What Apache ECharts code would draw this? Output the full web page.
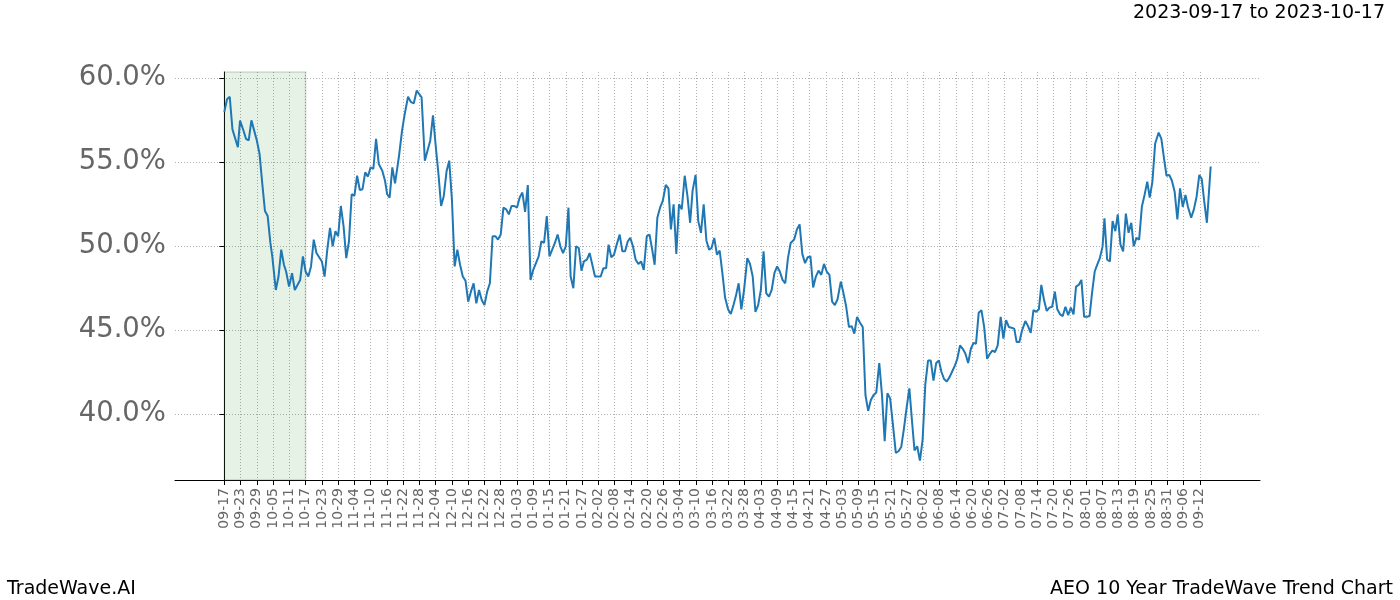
<!DOCTYPE html>
<html>
<head>
<meta charset="utf-8">
<script src="https://cdn.jsdelivr.net/npm/echarts@6/dist/echarts.min.js"></script>
<style>
html,body{margin:0;padding:0;background:#fff;}
#chart{width:1400px;height:600px;}
</style>
</head>
<body>
<div id="chart"></div>
<script>
// Tick labels (one every 6 days, starting at day 0 = 09-17)
const tickLabels = ['09-17','09-23','09-29','10-05','10-11','10-17','10-23','10-29','11-04','11-10','11-16','11-22','11-28','12-04','12-10','12-16','12-22','12-28','01-03','01-09','01-15','01-21','01-27','02-02','02-08','02-14','02-20','02-26','03-04','03-10','03-16','03-22','03-28','04-03','04-09','04-15','04-21','04-27','05-03','05-09','05-15','05-21','05-27','06-02','06-08','06-14','06-20','06-26','07-02','07-08','07-14','07-20','07-26','08-01','08-07','08-13','08-19','08-25','08-31','09-06','09-12'];
const tickStep = 6;
const yTicks = [40, 45, 50, 55, 60];
// Highlighted period (day offsets)
const highlightStart = 0;
const highlightEnd = 30;
const titleText = '2023-09-17 to 2023-10-17';
const footerLeft = 'TradeWave.AI';
const footerRight = 'AEO 10 Year TradeWave Trend Chart';
// [day offset from 09-17, percent]
const trendPoints = [[0,58.0],[1,58.75],[2,58.9],[3,56.96],[5,55.9],[5.8,57.48],[7,56.92],[8,56.4],[9,56.3],[10,57.5],[11,56.9],[12,56.3],[13,55.5],[14,53.75],[15,52.1],[16,51.8],[17,50.2],[17.7,49.4],[19,47.4],[20,48.2],[21,49.8],[22,48.9],[22.8,48.5],[23.9,47.6],[25,48.4],[26,47.4],[27,47.7],[28,48.0],[29,49.4],[30,48.5],[31,48.2],[32,48.8],[33,50.4],[34,49.6],[36,49.1],[37,48.2],[38,49.8],[39,51.1],[40,50.0],[41,50.9],[42,50.6],[43,52.4],[44,51.2],[45,49.3],[46,50.3],[47,53.1],[48,53.0],[49,54.2],[50,53.35],[51,53.4],[52,54.4],[53,54.15],[54,54.7],[55,54.6],[56,56.4],[57,54.9],[58.3,54.5],[59.3,53.9],[60.1,53.1],[61,52.9],[62,54.7],[63,53.75],[64.4,55.3],[65.6,56.9],[66.6,57.9],[67.8,58.9],[68.8,58.6],[69.9,58.5],[71,59.27],[72.8,58.87],[74,55.1],[75,55.7],[76,56.3],[77,57.8],[78,56.0],[79,54.35],[80,52.4],[81,53.0],[82,54.45],[83,55.1],[84,52.75],[85,48.8],[86,49.8],[87,48.9],[88,48.2],[89,47.95],[90,46.7],[91,47.3],[92,47.8],[93,46.6],[94,47.4],[95,46.8],[96,46.5],[97,47.3],[98,47.8],[99,50.6],[100,50.6],[101,50.4],[102,50.7],[103,52.3],[104,52.2],[105,51.9],[106,52.4],[107,52.4],[108,52.3],[109,52.9],[110,53.2],[111,52.05],[112,53.65],[113,48.0],[114,48.6],[115,49.0],[116,49.4],[117,50.3],[118,50.2],[119,51.8],[120,49.4],[121,49.8],[122,50.2],[123,50.7],[124,50.0],[125,49.6],[126,50.0],[127,52.3],[127.8,48.2],[128.8,47.5],[129.8,50.0],[130.8,49.9],[131.8,48.55],[132.7,49.1],[133.8,49.2],[134.8,49.6],[135.8,48.9],[136.8,48.2],[137.9,48.2],[138.9,48.2],[139.9,48.7],[140.9,48.7],[141.8,50.1],[142.8,49.35],[143.8,49.5],[144.8,50.1],[145.9,50.7],[146.9,49.7],[147.9,49.7],[148.9,50.3],[149.8,50.5],[150.8,50.0],[151.8,49.2],[152.8,48.95],[153.8,49.1],[154.8,48.6],[155.9,50.6],[156.9,50.7],[157.9,49.8],[158.8,48.9],[159.8,51.7],[160.8,52.3],[161.8,52.7],[162.9,53.65],[163.9,53.45],[164.8,51.0],[165.8,52.5],[166.8,49.55],[167.8,52.5],[168.8,52.2],[169.9,54.2],[170.9,53.0],[171.9,51.4],[172.8,53.3],[173.9,54.25],[174.9,51.5],[175.9,50.8],[176.9,52.5],[177.9,50.35],[178.9,49.8],[179.8,49.9],[180.8,50.5],[181.8,49.5],[182.8,49.75],[183.8,48.4],[184.8,46.95],[185.9,46.25],[186.9,45.97],[187.9,46.5],[188.8,47.05],[189.8,47.8],[190.8,46.25],[191.8,47.4],[193,49.3],[194,48.95],[195,48.2],[196,46.1],[197,46.5],[198,47.4],[199,49.7],[200,47.2],[201,47.0],[202,47.4],[203,48.4],[204,48.8],[205,48.5],[206,48.0],[207,47.8],[208,49.3],[209,50.2],[210.3,50.4],[211.3,51.0],[212.3,51.3],[213.3,49.55],[214.3,49.0],[215.3,49.35],[216.3,49.4],[217.3,47.55],[218.3,48.2],[219.3,48.55],[220.3,48.3],[221.3,48.95],[222.3,48.5],[223.3,48.3],[224.3,46.7],[225.3,46.5],[226.3,46.85],[227.5,47.9],[228.5,47.2],[229.5,46.4],[230.5,45.2],[231.5,45.25],[232.5,44.8],[233.5,45.8],[234.6,45.45],[235.6,45.2],[236.6,41.15],[237.6,40.2],[238.6,40.85],[239.6,41.15],[240.6,41.3],[241.7,43.05],[242.7,41.15],[243.7,38.4],[244.7,41.25],[245.7,40.95],[246.7,39.45],[247.8,37.7],[248.8,37.8],[249.8,38.05],[250.8,39.15],[251.8,40.4],[252.8,41.55],[253.7,39.75],[254.7,37.85],[255.7,38.1],[256.7,37.25],[257.7,38.5],[258.7,41.8],[259.7,43.2],[260.7,43.2],[261.7,42.0],[262.7,43.05],[263.7,43.2],[264.6,42.55],[265.6,42.1],[266.6,41.95],[267.6,42.2],[268.6,42.55],[269.6,42.9],[270.5,43.3],[271.5,44.1],[272.5,43.9],[273.5,43.6],[274.5,43.05],[275.5,43.9],[276.5,44.25],[277.4,44.2],[278.4,46.05],[279.4,46.2],[280.4,45.2],[281.5,43.3],[282.5,43.6],[283.5,43.8],[284.4,43.7],[285.4,44.1],[286.5,45.8],[287.5,44.5],[288.5,45.6],[289.5,45.2],[290.5,45.15],[291.5,45.1],[292.4,44.3],[293.4,44.3],[294.4,45.0],[295.6,45.55],[296.6,45.25],[297.6,44.85],[298.6,46.2],[299.6,46.1],[300.6,46.25],[301.5,47.7],[302.5,46.8],[303.5,46.15],[304.5,46.35],[305.5,46.4],[306.5,47.3],[307.4,46.25],[308.4,45.95],[309.4,45.85],[310.4,46.4],[311.4,45.9],[312.4,46.35],[313.4,45.95],[314.3,47.6],[315.3,47.7],[316.3,48.0],[317.3,45.8],[318.3,45.8],[319.3,45.85],[320.2,47.2],[321.2,48.5],[322.1,48.9],[323.1,49.3],[324.1,49.98],[324.8,51.67],[325.8,49.2],[326.8,49.1],[327.8,51.5],[328.8,50.9],[329.7,51.9],[330.7,50.1],[331.7,49.7],[332.7,51.95],[333.7,50.8],[334.7,51.4],[335.6,50.0],[336.6,50.5],[337.6,50.4],[338.6,52.35],[339.6,53.05],[340.6,53.85],[341.5,52.9],[342.5,53.85],[343.5,56.1],[344.8,56.77],[345.8,56.4],[346.8,55.2],[347.7,54.2],[348.7,54.25],[349.7,53.9],[350.7,53.25],[351.7,51.6],[352.7,53.45],[353.7,52.35],[354.7,53.05],[355.6,52.35],[356.8,51.7],[357.8,52.2],[358.8,52.95],[359.8,54.25],[360.7,54.0],[361.6,52.7],[362.6,51.4],[364,54.75]];

const xTicks = tickLabels.map((_, i) => i * tickStep);
const FONT = 'DejaVu Sans';

const chart = echarts.init(document.getElementById('chart'), null, {renderer: 'canvas'});
chart.setOption({
  animation: false,
  backgroundColor: '#ffffff',
  title: [
    {text: titleText, right: 15, top: 4, padding: 0, textStyle: {fontFamily: FONT, fontSize: 19, fontWeight: 'normal', color: '#000'}},
    {text: footerLeft, left: 7, top: 580, padding: 0, textStyle: {fontFamily: FONT, fontSize: 19, fontWeight: 'normal', color: '#000'}},
    {text: footerRight, right: 7, top: 580, padding: 0, textStyle: {fontFamily: FONT, fontSize: 19, fontWeight: 'normal', color: '#000'}}
  ],
  grid: {left: 175, right: 140, top: 72, bottom: 120, containLabel: false},
  xAxis: {
    type: 'value',
    min: -18.2,
    max: 382.2,
    axisLine: {show: true, onZero: false, lineStyle: {color: '#000', width: 1}},
    axisTick: {show: true, customValues: xTicks, length: 5, lineStyle: {color: '#000', width: 1}},
    axisLabel: {
      customValues: xTicks, rotate: 90, margin: 8, fontSize: 14, fontFamily: FONT, color: '#666',
      formatter: v => tickLabels[Math.round(v / tickStep)] || ''
    },
    splitLine: {show: true, lineStyle: {type: [1, 2], color: '#b0b0b0', width: 1}}
  },
  yAxis: {
    type: 'value',
    min: 36.09,
    max: 60.375,
    axisLine: {show: true, lineStyle: {color: '#000', width: 1}},
    axisTick: {show: true, customValues: yTicks, length: 5, lineStyle: {color: '#000', width: 1}},
    axisLabel: {
      customValues: yTicks, margin: 9, fontSize: 27.5, fontFamily: FONT, color: '#666',
      formatter: v => v.toFixed(1) + '%'
    },
    splitLine: {show: true, lineStyle: {type: [1, 2], color: '#b0b0b0', width: 1}}
  },
  series: [{
    type: 'line',
    data: trendPoints,
    showSymbol: false,
    lineStyle: {color: '#1f77b4', width: 2},
    z: 3,
    markArea: {
      silent: true,
      itemStyle: {color: 'rgba(0,128,0,0.1)', borderColor: 'rgba(60,80,60,0.2)', borderWidth: 1.5},
      data: [[{xAxis: highlightStart}, {xAxis: highlightEnd}]]
    }
  }]
});
</script>
</body>
</html>
